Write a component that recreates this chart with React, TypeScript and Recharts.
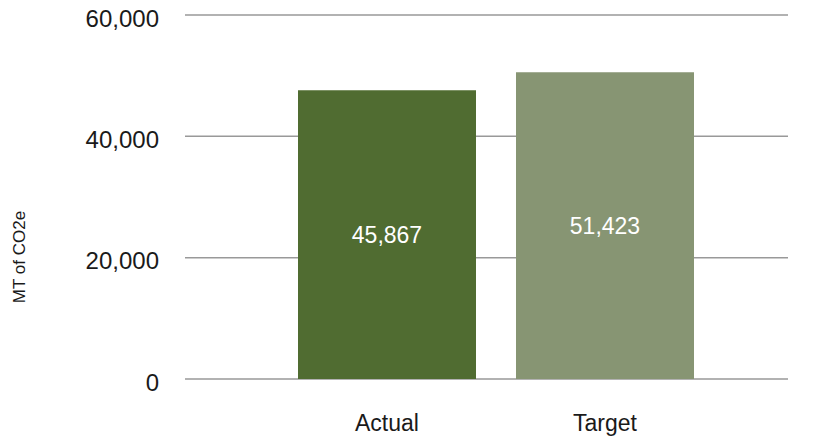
import React from 'react';
import { BarChart, Bar, XAxis, YAxis, CartesianGrid, Cell, LabelList } from 'recharts';

const categories = ['Actual', 'Target'];
const barValues = [47600, 50550];
const valueLabels = ['45,867', '51,423'];
const barColors = ['#506c31', '#879573'];
const yTicks = [0, 20000, 40000, 60000];

const data = categories.map((name, i) => ({ name, value: barValues[i], label: valueLabels[i] }));

const FONT = '"Liberation Sans", Arial, sans-serif';

export default function App() {
  return (
    <div style={{ position: 'absolute', left: 0, top: 0, width: 817, height: 436, background: '#fff' }}>
      <BarChart width={817} height={436} data={data} margin={{ top: 15, right: 29, bottom: 0, left: 0 }} barSize={178}>
        <CartesianGrid horizontal={true} vertical={false} stroke="#999" strokeWidth={1.5} />
        <XAxis
          dataKey="name"
          axisLine={false}
          tickLine={false}
          tickSize={0}
          tickMargin={36}
          height={57}
          padding={{ left: 93, right: 74 }}
          tick={{ fontSize: 23, fill: '#1a1a1a', fontFamily: FONT }}
        />
        <YAxis
          width={185}
          domain={[0, 60000]}
          ticks={yTicks}
          axisLine={false}
          tickLine={false}
          tickSize={0}
          tickMargin={26}
          tickFormatter={(v: number) => v.toLocaleString('en-US')}
          tick={{ fontSize: 24, fill: '#1a1a1a', fontFamily: FONT, dy: 3 }}
          label={{ value: 'MT of CO2e', angle: -90, position: 'center', dx: -74, dy: 60, fontSize: 17, fill: '#1a1a1a', fontFamily: FONT }}
        />
        <Bar dataKey="value" isAnimationActive={false}>
          {data.map((d, i) => (
            <Cell key={d.name} fill={barColors[i]} />
          ))}
          <LabelList dataKey="label" position="center" fill="#ffffff" fontSize={23} fontFamily={FONT} />
        </Bar>
      </BarChart>
    </div>
  );
}
